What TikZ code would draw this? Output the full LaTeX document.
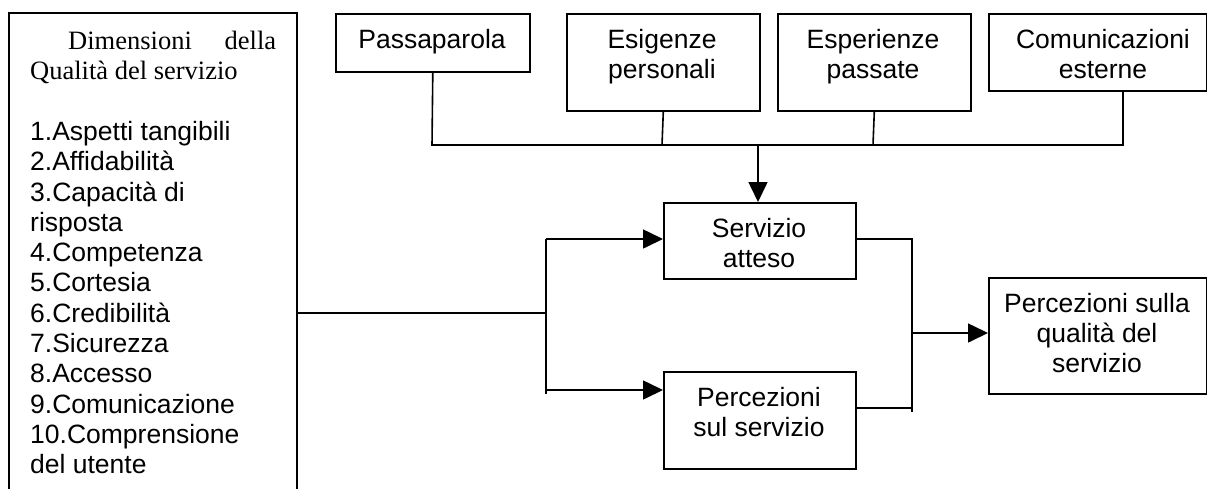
\documentclass[tikz,border=0pt]{standalone}
\usepackage{fontspec}
\setmainfont{Liberation Sans}
\newfontfamily\serifface{Liberation Serif}
\usetikzlibrary{arrows.meta}
\begin{document}
\begin{tikzpicture}[x=1pt,y=-1pt,
  box/.style={draw,line width=1.6pt},
  conn/.style={line width=1.6pt},
  arr/.style={conn,-{Triangle[length=20pt,width=19pt]}},
  txt/.style={inner sep=0pt,anchor=base,font=\fontsize{26.5}{30}\selectfont},
  ltxt/.style={inner sep=0pt,anchor=base west,font=\fontsize{26.5}{30}\selectfont}]
\useasboundingbox (0,0) rectangle (1207,488);
% left box (open at the bottom)
\draw[box] (9,500) -- (9,13) -- (297,13) -- (297,500);
\coordinate (lbox) at (297,313);
\node[ltxt] (t1) at (30,49.5) {\serifface\makebox[246pt][l]{\hspace*{38pt}Dimensioni\hfill della}};
\node[ltxt] (t2) at (30,79.8) {\serifface Qualità del servizio};
\foreach \t [count=\i] in {1.Aspetti tangibili,2.Affidabilità,3.Capacità di,risposta,4.Competenza,5.Cortesia,6.Credibilità,7.Sicurezza,8.Accesso,9.Comunicazione,10.Comprensione,del utente}
  \node[ltxt] (l\i) at (30,140.4+30.3*\i-30.3) {\t};
% top boxes
\node[box,minimum width=194pt,minimum height=58pt,anchor=north west] (pp) at (335,13) {};
\node[txt] at (432,48) {Passaparola};
\node[box,minimum width=193pt,minimum height=97pt,anchor=north west] (ep) at (566,13) {};
\node[txt] at (662,48) {Esigenze};
\node[txt] at (662,78) {personali};
\node[box,minimum width=193pt,minimum height=97pt,anchor=north west] (es) at (777,13) {};
\node[txt] at (873,48) {Esperienze};
\node[txt] at (873,78) {passate};
\node[box,minimum width=218pt,minimum height=77pt,anchor=north west] (ce) at (988,13) {};
\node[txt] at (1103,48) {Comunicazioni};
\node[txt] at (1103,78) {esterne};
% middle boxes
\node[box,minimum width=192pt,minimum height=76pt,anchor=north west] (sa) at (663,202) {};
\node[txt] at (759,237) {Servizio};
\node[txt] at (759,267) {atteso};
\node[box,minimum width=192pt,minimum height=97pt,anchor=north west] (ps) at (663,371) {};
\node[txt] at (759,406) {Percezioni};
\node[txt] at (759,436) {sul servizio};
% right box
\node[box,minimum width=218pt,minimum height=116pt,anchor=north west] (pq) at (988,277) {};
\node[txt] at (1097,312) {Percezioni sulla};
\node[txt] at (1097,342) {qualità del};
\node[txt] at (1097,372) {servizio};
% top bus
\coordinate (b1) at (432,145);
\coordinate (b4) at (1123,145);
\coordinate (bm) at (758,145);
\draw[conn] (pp.south) -- (b1) -- (b4) -- (b4 |- ce.south);
\draw[conn] (ep.south) -- (662,145);
\draw[conn] (es.south) -- (873,145);
\draw[arr] (bm) -- (sa.north -| bm);
% left bus
\coordinate (lv) at (546,313);
\draw[conn] (lbox) -- (lv);
\draw[conn] (546,394) -- (546,239);
\draw[arr] (546,239) -- (sa.west |- 546,239);
\draw[arr] (546,390) -- (ps.west |- 546,390);
% right bus
\draw[conn] (sa.east |- 0,239) -- (912,239) -- (912,412);
\draw[conn] (ps.east |- 0,408) -- (912,408);
\draw[arr] (912,333) -- (pq.west |- 0,333);
\end{tikzpicture}
\end{document}
